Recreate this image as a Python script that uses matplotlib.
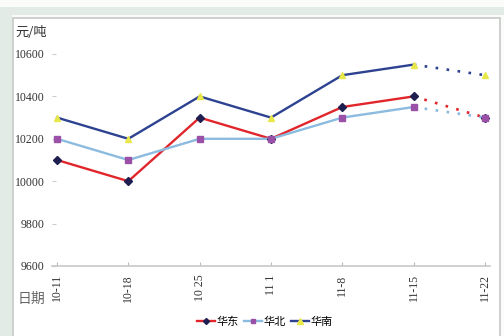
import matplotlib
matplotlib.use("Agg")
import matplotlib.pyplot as plt
from matplotlib.patches import Rectangle
from matplotlib.lines import Line2D

plt.rcParams['font.family'] = ['Liberation Serif', 'Noto Sans CJK SC']

dates = ["10-11", "10-18", "10 25", "11 1", "11-8", "11-15", "11-22"]
east = [10100, 10000, 10300, 10200, 10350, 10400, 10300]
north = [10200, 10100, 10200, 10200, 10300, 10350, 10300]
south = [10300, 10200, 10400, 10300, 10500, 10550, 10500]

series = [
    ("华东", east, "#e0262b", "#1e1e50", "D", 3.8),
    ("华北", north, "#8cbbe0", "#9b50a8", "s", 4.4),
    ("华南", south, "#2d4290", "#e8e84a", "^", 5.0),
]

W, H = 504, 336
fig = plt.figure(figsize=(W / 100, H / 100), dpi=100)
fig.patch.set_facecolor("#fbfcfa")

# outer frame bands and white panel, kept behind the axes
fig.patches.append(Rectangle((0, 1 - 15 / H), 1, 8 / H, transform=fig.transFigure,
                             facecolor="#e2ebe5", edgecolor="none", zorder=-10))
fig.patches.append(Rectangle((0, 0), 12 / W, 1 - 15 / H, transform=fig.transFigure,
                             facecolor="#e2ebe5", edgecolor="none", zorder=-10))
fig.patches.append(Rectangle((13 / W, -0.01), (500 - 13) / W, 1 - 18 / H + 0.01,
                             transform=fig.transFigure, facecolor="white",
                             edgecolor="#c4c8c6", linewidth=1.2, zorder=-9))

ax = fig.add_axes([52 / W, 1 - 266 / H, (490 - 52) / W, (266 - 54) / H])
ax.set_facecolor("none")

x = list(range(len(dates)))
n = len(dates)
for name, vals, lc, mc, mk, ms in series:
    ax.plot(x[:n - 1], vals[:n - 1], color=lc, linewidth=1.7, zorder=2)
    ax.plot(x[n - 2:], vals[n - 2:], color=lc, linewidth=1.9,
            linestyle=(0, (1, 3.2)), zorder=2)
    ax.plot(x, vals, linestyle="none", marker=mk, markersize=ms,
            markerfacecolor=mc, markeredgecolor=mc, zorder=3)

ax.set_xlim(-0.07, n - 1 + 0.07)
ax.set_ylim(9600, 10600)
ax.set_yticks(range(9600, 10601, 200))
ax.set_xticks(x)
ax.set_xticklabels(dates, rotation=90, fontsize=8.5, color="#333333")
ax.tick_params(axis="y", direction="in", length=3, color="#cccccc",
               labelsize=8.5, labelcolor="#333333", pad=5.5)
ax.tick_params(axis="x", direction="in", length=3, color="#bbbbbb", pad=6)

for side in ["top", "right", "left"]:
    ax.spines[side].set_visible(False)
ax.spines["bottom"].set_color("#c8c8c8")
ax.spines["bottom"].set_linewidth(1.2)

fig.text(15 / W, 1 - 32 / H, "元/吨", fontsize=9.5, color="#333333",
         family=["Noto Sans CJK SC"], va="center", ha="left")
fig.text(18 / W, 1 - 299 / H, "日期", fontsize=10, color="#666666",
         family=["Noto Sans CJK SC"], va="center", ha="left")

handles = [Line2D([], [], color=lc, linewidth=1.7, marker=mk, markersize=ms * 0.8,
                  markerfacecolor=mc, markeredgecolor=mc)
           for name, vals, lc, mc, mk, ms in series]
fig.legend(handles, [s[0] for s in series], loc="center",
           bbox_to_anchor=(265 / W, 1 - 322 / H), ncol=3, frameon=False,
           prop={"family": "Noto Sans CJK SC", "size": 8},
           handlelength=1.6, handletextpad=0.15, columnspacing=0.5)

fig.savefig("out.png", dpi=100)
